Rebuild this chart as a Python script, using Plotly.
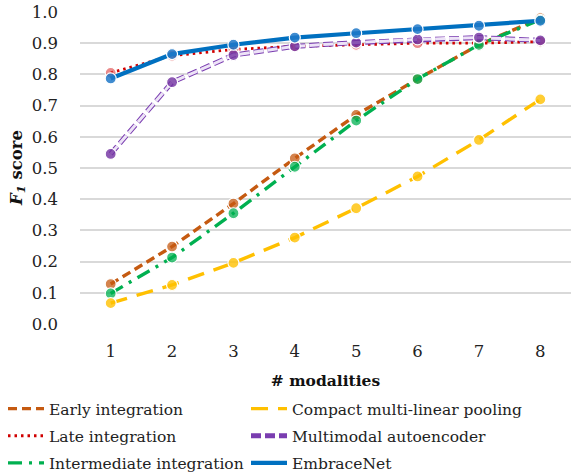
import plotly.graph_objects as go

modalities = [1, 2, 3, 4, 5, 6, 7, 8]
early = [0.128, 0.248, 0.386, 0.531, 0.670, 0.785, 0.895, 0.980]
late = [0.805, 0.860, 0.880, 0.890, 0.895, 0.900, 0.900, 0.905]
intermediate = [0.098, 0.213, 0.355, 0.504, 0.652, 0.785, 0.895, 0.975]
compact = [0.067, 0.125, 0.196, 0.277, 0.371, 0.473, 0.590, 0.720]
multimodal = [0.545, 0.775, 0.862, 0.890, 0.902, 0.912, 0.918, 0.909]
embracenet = [0.787, 0.865, 0.895, 0.918, 0.932, 0.945, 0.956, 0.972]

FONT = "DejaVu Serif"
FS = 15.5

fig = go.Figure()

def add_series(name, ys, color, mcolor, dash, width, legend, inner=None, inner_w=None):
    fig.add_trace(go.Scatter(
        x=modalities, y=ys, mode="lines", name=name, legend=legend,
        legendgroup=name,
        line=dict(color=color, dash=dash, width=width),
        showlegend=True))
    if inner is not None:
        fig.add_trace(go.Scatter(
            x=modalities, y=ys, mode="lines", showlegend=False, legend=legend,
            legendgroup=name,
            line=dict(color=inner, dash=dash, width=inner_w),
            hoverinfo="skip"))
    fig.add_trace(go.Scatter(
        x=modalities, y=ys, mode="markers", showlegend=False, legend=legend,
        legendgroup=name,
        marker=dict(size=11, color=mcolor, line=dict(color="white", width=1.2)),
        hoverinfo="skip"))

add_series("Early integration", early, "#C55A11", "rgba(197,90,17,0.75)",
           "9px,5px", 3.4, "legend")
add_series("Late integration", late, "#D00000", "rgba(220,60,60,0.6)",
           "2.5px,4px", 2.8, "legend")
add_series("Intermediate integration", intermediate, "#00B050", "rgba(0,176,80,0.75)",
           "14px,7px,3px,7px", 3.4, "legend")
add_series("Compact multi-linear pooling", compact, "#FFC000", "rgba(255,192,0,0.8)",
           "17px,10px", 3.4, "legend2")
add_series("Multimodal autoencoder", multimodal, "#7A3DB0", "rgba(112,48,160,0.8)",
           "10px,4px", 5.0, "legend2", inner="#EDE3F7", inner_w=3.0)
add_series("EmbraceNet", embracenet, "#0070C0", "rgba(30,120,200,0.85)",
           "solid", 4.2, "legend2")

leg_common = dict(
    orientation="v", xref="container", yref="container",
    y=1 - 392 / 474, xanchor="left", yanchor="top",
    font=dict(family=FONT, size=FS, color="#222222"),
    traceorder="grouped", tracegroupgap=4, bgcolor="rgba(0,0,0,0)",
    itemwidth=36,
)

fig.update_layout(
    width=571, height=474,
    margin=dict(l=80, r=0, t=12, b=150, autoexpand=False),
    plot_bgcolor="white", paper_bgcolor="white",
    font=dict(family=FONT, size=FS, color="#222222"),
    showlegend=True,
    legend=dict(x=3 / 571, **leg_common),
    legend2=dict(x=246 / 571, **leg_common),
    xaxis=dict(
        range=[0.5, 8.5], tickmode="array", tickvals=modalities,
        showgrid=False, zeroline=False, showline=False,
        ticks="", ticklabelstandoff=15,
        tickfont=dict(size=16.5),
        title=dict(text="<b># modalities</b>", standoff=15,
                   font=dict(family=FONT, size=FS, color="#111111")),
    ),
    yaxis=dict(
        range=[0, 1.0], tickmode="array",
        tickvals=[i / 10 for i in range(11)],
        ticktext=[f"{i / 10:.1f}" for i in range(11)],
        showgrid=True, gridcolor="#D9D9D9", gridwidth=1.5,
        zeroline=False, showline=False, ticks="", ticklabelstandoff=21,
        tickfont=dict(size=16.5),
    ),
    annotations=[dict(
        text="<b><i>F</i><sub><i>1</i></sub> score</b>", textangle=-90,
        xref="paper", yref="paper", x=(17 - 80) / 491, y=0.5,
        xanchor="center", yanchor="middle", showarrow=False,
        font=dict(family=FONT, size=16.5, color="#111111"),
    )],
)

fig.write_html(
    "out.html",
    config={"displayModeBar": False},
    post_script="document.body.style.margin='0px';document.body.style.padding='0px';",
)
